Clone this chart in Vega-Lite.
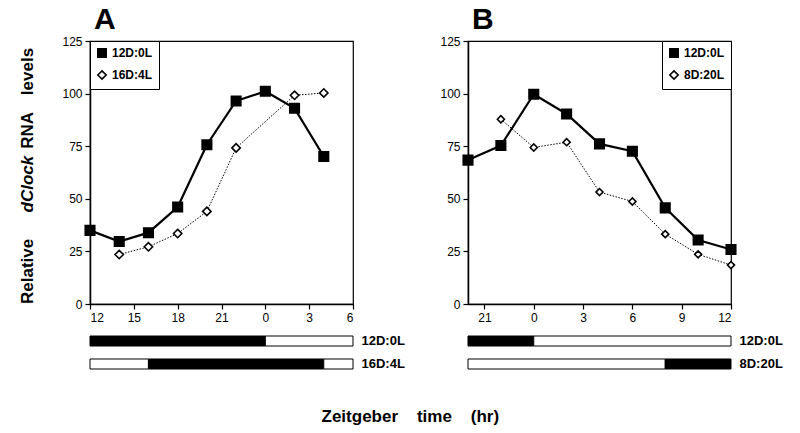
{
  "$schema": "https://vega.github.io/schema/vega-lite/v6.json",
  "padding": {"left": 18, "top": 4, "right": 5, "bottom": 5},
  "background": "white",
  "datasets": {
    "a": [
      {"series": "12D:0L", "hour": 12, "value": 35.0},
      {"series": "12D:0L", "hour": 14, "value": 29.7},
      {"series": "12D:0L", "hour": 16, "value": 33.9},
      {"series": "12D:0L", "hour": 18, "value": 46.1},
      {"series": "12D:0L", "hour": 20, "value": 75.7},
      {"series": "12D:0L", "hour": 22, "value": 96.5},
      {"series": "12D:0L", "hour": 24, "value": 101.1},
      {"series": "12D:0L", "hour": 26, "value": 93.0},
      {"series": "12D:0L", "hour": 28, "value": 70.1},
      {"series": "16D:4L", "hour": 14, "value": 23.5},
      {"series": "16D:4L", "hour": 16, "value": 27.2},
      {"series": "16D:4L", "hour": 18, "value": 33.5},
      {"series": "16D:4L", "hour": 20, "value": 44.0},
      {"series": "16D:4L", "hour": 22, "value": 74.2},
      {"series": "16D:4L", "hour": 26, "value": 99.2},
      {"series": "16D:4L", "hour": 28, "value": 100.3}
    ],
    "b": [
      {"series": "12D:0L", "hour": 20, "value": 68.4},
      {"series": "12D:0L", "hour": 22, "value": 75.3},
      {"series": "12D:0L", "hour": 24, "value": 99.7},
      {"series": "12D:0L", "hour": 26, "value": 90.3},
      {"series": "12D:0L", "hour": 28, "value": 76.1},
      {"series": "12D:0L", "hour": 30, "value": 72.6},
      {"series": "12D:0L", "hour": 32, "value": 45.7},
      {"series": "12D:0L", "hour": 34, "value": 30.4},
      {"series": "12D:0L", "hour": 36, "value": 25.9},
      {"series": "8D:20L", "hour": 22, "value": 87.8},
      {"series": "8D:20L", "hour": 24, "value": 74.4},
      {"series": "8D:20L", "hour": 26, "value": 76.9},
      {"series": "8D:20L", "hour": 28, "value": 53.2},
      {"series": "8D:20L", "hour": 30, "value": 48.7},
      {"series": "8D:20L", "hour": 32, "value": 33.2},
      {"series": "8D:20L", "hour": 34, "value": 23.6},
      {"series": "8D:20L", "hour": 36, "value": 18.5}
    ],
    "stripA": [
      {"regime": "12D:0L", "start": 12, "end": 24, "phase": "dark"},
      {"regime": "12D:0L", "start": 24, "end": 30, "phase": "light"},
      {"regime": "16D:4L", "start": 12, "end": 16, "phase": "light"},
      {"regime": "16D:4L", "start": 16, "end": 28, "phase": "dark"},
      {"regime": "16D:4L", "start": 28, "end": 30, "phase": "light"}
    ],
    "stripB": [
      {"regime": "12D:0L", "start": 20, "end": 24, "phase": "dark"},
      {"regime": "12D:0L", "start": 24, "end": 36, "phase": "light"},
      {"regime": "8D:20L", "start": 20, "end": 32, "phase": "light"},
      {"regime": "8D:20L", "start": 32, "end": 36, "phase": "dark"}
    ],
    "ytitle": [
      {"word": "Relative", "hour": 7.75, "value": 15.5, "style": "normal"},
      {"word": "dClock", "hour": 7.75, "value": 57.0, "style": "italic"},
      {"word": "RNA", "hour": 7.75, "value": 82.5, "style": "normal"},
      {"word": "levels", "hour": 7.75, "value": 110.5, "style": "normal"}
    ]
  },
  "title": {
    "text": "Zeitgeber\u00a0\u00a0\u00a0\u00a0time\u00a0\u00a0\u00a0\u00a0(hr)",
    "orient": "bottom",
    "anchor": "middle",
    "fontSize": 17,
    "fontWeight": "bold",
    "font": "Liberation Sans",
    "color": "black",
    "offset": 39,
    "dx": 10
  },
  "resolve": {"scale": {"x": "independent", "y": "independent", "fill": "independent", "shape": "independent", "stroke": "independent"}, "legend": {"fill": "independent", "shape": "independent", "stroke": "independent"}},
  "spacing": 34,
  "hconcat": [
    {
      "spacing": 10,
      "resolve": {"scale": {"x": "independent", "y": "independent", "fill": "independent", "shape": "independent", "stroke": "independent"}, "legend": {"fill": "independent", "shape": "independent", "stroke": "independent"}},
      "vconcat": [
        {
          "width": 263,
          "height": 263,
          "title": {"text": "A", "anchor": "start", "frame": "group", "fontSize": 30, "fontWeight": "bold", "font": "Liberation Sans", "color": "black", "offset": 0, "dx": 4},
          "layer": [
            {
              "data": {"name": "a"},
              "transform": [{"filter": "datum.series === '16D:4L'"}],
              "mark": {"type": "line", "color": "black", "strokeWidth": 1, "strokeDash": [1.5, 1.5]},
              "encoding": {
                "x": {"field": "hour", "type": "quantitative", "scale": {"domain": [12, 30], "nice": false}, "axis": {"values": [12, 15, 18, 21, 24, 27, 30], "labelExpr": "datum.value % 24", "title": null}},
                "y": {"field": "value", "type": "quantitative", "scale": {"domain": [0, 125], "nice": false}, "axis": {"values": [0, 25, 50, 75, 100, 125], "title": null}}
              }
            },
            {
              "data": {"name": "a"},
              "transform": [{"filter": "datum.series === '12D:0L'"}],
              "mark": {"type": "line", "color": "black", "strokeWidth": 2.2},
              "encoding": {
                "x": {"field": "hour", "type": "quantitative"},
                "y": {"field": "value", "type": "quantitative"}
              }
            },
            {
              "data": {"name": "a"},
              "mark": {"type": "point", "filled": true, "strokeWidth": 1.6, "opacity": 1},
              "encoding": {
                "x": {"field": "hour", "type": "quantitative"},
                "y": {"field": "value", "type": "quantitative"},
                "shape": {"field": "series", "type": "nominal", "scale": {"domain": ["12D:0L", "16D:4L"], "range": ["square", "diamond"]}, "legend": {"title": null, "orient": "top-left"}},
                "fill": {"field": "series", "type": "nominal", "scale": {"domain": ["12D:0L", "16D:4L"], "range": ["black", "white"]}, "legend": {"title": null, "orient": "top-left"}},
                "stroke": {"field": "series", "type": "nominal", "scale": {"domain": ["12D:0L", "16D:4L"], "range": ["black", "black"]}, "legend": {"title": null, "orient": "top-left"}},
                "size": {"field": "series", "type": "nominal", "scale": {"domain": ["12D:0L", "16D:4L"], "range": [90, 50]}, "legend": null}
              }
            },
            {
              "data": {"name": "ytitle"},
              "transform": [{"filter": "datum.style === 'normal'"}],
              "mark": {"type": "text", "angle": 270, "fontSize": 17, "fontWeight": "bold", "font": "Liberation Sans", "color": "black", "align": "center", "baseline": "middle"},
              "encoding": {
                "x": {"field": "hour", "type": "quantitative"},
                "y": {"field": "value", "type": "quantitative"},
                "text": {"field": "word"}
              }
            },
            {
              "data": {"name": "ytitle"},
              "transform": [{"filter": "datum.style === 'italic'"}],
              "mark": {"type": "text", "angle": 270, "fontSize": 17, "fontWeight": "bold", "fontStyle": "italic", "font": "Liberation Sans", "color": "black", "align": "center", "baseline": "middle"},
              "encoding": {
                "x": {"field": "hour", "type": "quantitative"},
                "y": {"field": "value", "type": "quantitative"},
                "text": {"field": "word"}
              }
            }
          ]
        },
        {
          "width": 263,
          "height": 33,
          "view": {"stroke": null},
          "data": {"name": "stripA"},
          "mark": {"type": "rect", "stroke": "black", "strokeWidth": 1},
          "encoding": {
            "x": {"field": "start", "type": "quantitative", "scale": {"domain": [12, 30], "nice": false}, "axis": null},
            "x2": {"field": "end"},
            "y": {"field": "regime", "type": "nominal", "sort": null, "scale": {"paddingInner": 0.565, "paddingOuter": 0}, "axis": {"orient": "right", "title": null, "ticks": false, "domain": false, "labelPadding": 8, "labelFontSize": 13, "labelFontWeight": "bold"}},
            "fill": {"field": "phase", "type": "nominal", "scale": {"domain": ["dark", "light"], "range": ["black", "white"]}, "legend": null}
          }
        }
      ]
    },
    {
      "spacing": 10,
      "resolve": {"scale": {"x": "independent", "y": "independent", "fill": "independent", "shape": "independent", "stroke": "independent"}, "legend": {"fill": "independent", "shape": "independent", "stroke": "independent"}},
      "vconcat": [
        {
          "width": 263,
          "height": 263,
          "title": {"text": "B", "anchor": "start", "frame": "group", "fontSize": 30, "fontWeight": "bold", "font": "Liberation Sans", "color": "black", "offset": 0, "dx": 4},
          "layer": [
            {
              "data": {"name": "b"},
              "transform": [{"filter": "datum.series === '8D:20L'"}],
              "mark": {"type": "line", "color": "black", "strokeWidth": 1, "strokeDash": [1.5, 1.5]},
              "encoding": {
                "x": {"field": "hour", "type": "quantitative", "scale": {"domain": [20, 36], "nice": false}, "axis": {"values": [21, 24, 27, 30, 33, 36], "labelExpr": "datum.value % 24", "title": null}},
                "y": {"field": "value", "type": "quantitative", "scale": {"domain": [0, 125], "nice": false}, "axis": {"values": [0, 25, 50, 75, 100, 125], "title": null}}
              }
            },
            {
              "data": {"name": "b"},
              "transform": [{"filter": "datum.series === '12D:0L'"}],
              "mark": {"type": "line", "color": "black", "strokeWidth": 2.2},
              "encoding": {
                "x": {"field": "hour", "type": "quantitative"},
                "y": {"field": "value", "type": "quantitative"}
              }
            },
            {
              "data": {"name": "b"},
              "mark": {"type": "point", "filled": true, "strokeWidth": 1.6, "opacity": 1},
              "encoding": {
                "x": {"field": "hour", "type": "quantitative"},
                "y": {"field": "value", "type": "quantitative"},
                "shape": {"field": "series", "type": "nominal", "scale": {"domain": ["12D:0L", "8D:20L"], "range": ["square", "diamond"]}, "legend": {"title": null, "orient": "top-right"}},
                "fill": {"field": "series", "type": "nominal", "scale": {"domain": ["12D:0L", "8D:20L"], "range": ["black", "white"]}, "legend": {"title": null, "orient": "top-right"}},
                "stroke": {"field": "series", "type": "nominal", "scale": {"domain": ["12D:0L", "8D:20L"], "range": ["black", "black"]}, "legend": {"title": null, "orient": "top-right"}},
                "size": {"field": "series", "type": "nominal", "scale": {"domain": ["12D:0L", "8D:20L"], "range": [90, 50]}, "legend": null}
              }
            }
          ]
        },
        {
          "width": 263,
          "height": 33,
          "view": {"stroke": null},
          "data": {"name": "stripB"},
          "mark": {"type": "rect", "stroke": "black", "strokeWidth": 1},
          "encoding": {
            "x": {"field": "start", "type": "quantitative", "scale": {"domain": [20, 36], "nice": false}, "axis": null},
            "x2": {"field": "end"},
            "y": {"field": "regime", "type": "nominal", "sort": null, "scale": {"paddingInner": 0.565, "paddingOuter": 0}, "axis": {"orient": "right", "title": null, "ticks": false, "domain": false, "labelPadding": 8, "labelFontSize": 13, "labelFontWeight": "bold"}},
            "fill": {"field": "phase", "type": "nominal", "scale": {"domain": ["dark", "light"], "range": ["black", "white"]}, "legend": null}
          }
        }
      ]
    }
  ],
  "config": {
    "font": "Liberation Sans",
    "view": {"stroke": "black", "strokeWidth": 1.2},
    "axis": {
      "grid": false,
      "domainColor": "black",
      "domainWidth": 1.5,
      "tickColor": "black",
      "tickWidth": 1.2,
      "tickSize": 5,
      "labelColor": "black",
      "labelFontSize": 12,
      "labelFont": "Liberation Sans",
      "labelPadding": 3
    },
    "legend": {
      "strokeColor": "black",
      "fillColor": "white",
      "padding": 6,
      "offset": 0,
      "labelFontSize": 12,
      "labelFontWeight": "bold",
      "labelFont": "Liberation Sans",
      "labelColor": "black",
      "symbolStrokeWidth": 1.6,
      "symbolSize": 70,
      "rowPadding": 6
    }
  }
}
